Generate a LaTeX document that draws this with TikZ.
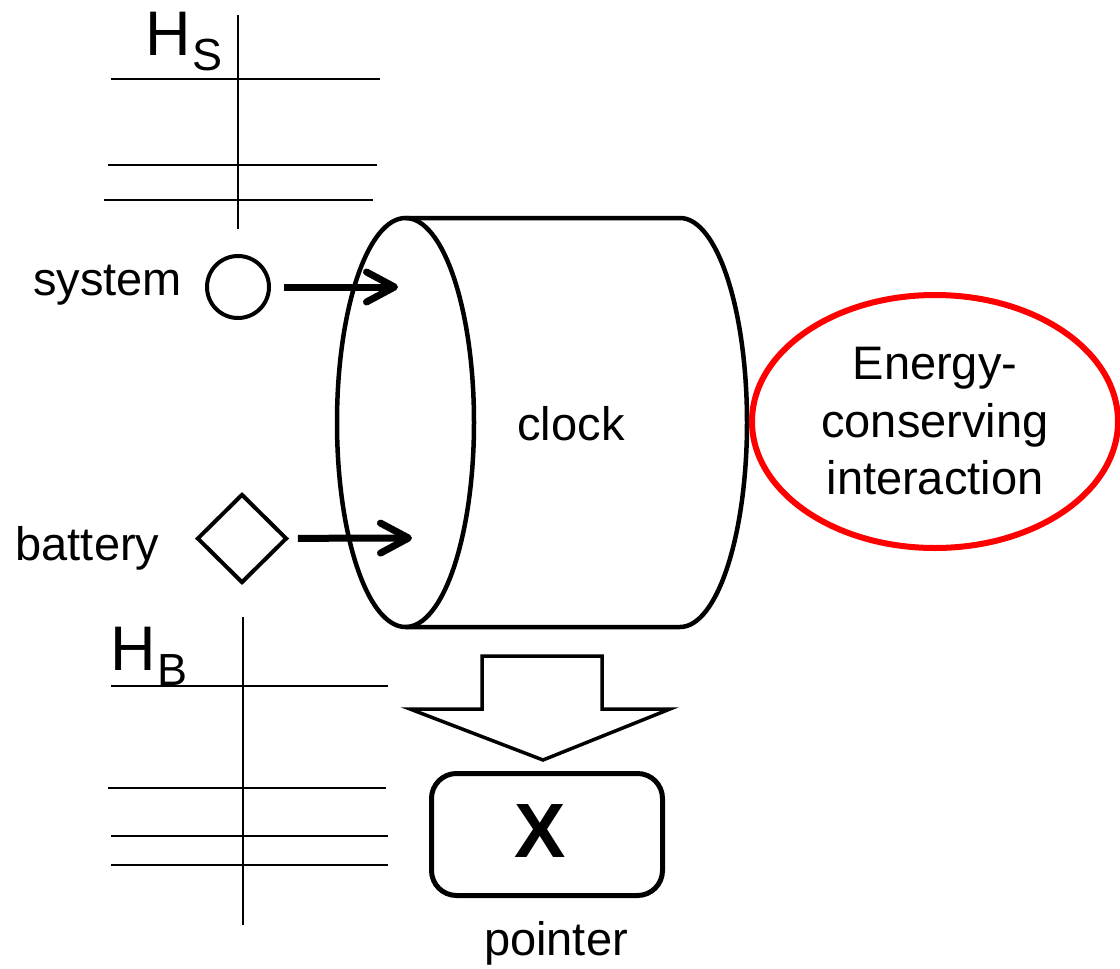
\documentclass[tikz,border=0pt]{standalone}
\usepackage{fontspec}
\setmainfont{Liberation Sans}
\usetikzlibrary{arrows.meta,shapes.geometric}
\begin{document}
\begin{tikzpicture}[x=1pt,y=-1pt,
  lvl/.style={line width=2pt},
  lbl/.style={font=\fontsize{47}{57.5}\selectfont, inner sep=0pt, anchor=base},
  bigarrow/.style={line width=7pt, -{Straight Barb[length=28pt,width=30pt,round]}},
  shapeline/.style={draw, line width=4pt}
]
\useasboundingbox (0,0) rectangle (1120,969);

% H_S levels
\draw[lvl] (238,15) -- (238,229);
\draw[lvl] (111,79) -- (380,79);
\draw[lvl] (108,165) -- (377,165);
\draw[lvl] (104,200) -- (373,200);
\node[inner sep=0pt, anchor=base west, font=\fontsize{63}{63}\selectfont] (hsH) at (145,55) {H};
\node[inner sep=0pt, anchor=base west, font=\fontsize{45}{45}\selectfont] (hsS) at (192,70) {S};

% H_B levels
\draw[lvl] (243,617) -- (243,925);
\draw[lvl] (111,686) -- (388,686);
\draw[lvl] (108,788) -- (386,788);
\draw[lvl] (111,836) -- (388,836);
\draw[lvl] (111,865) -- (388,865);
\node[inner sep=0pt, anchor=base west, font=\fontsize{63}{63}\selectfont] (hbH) at (110,670) {H};
\node[inner sep=0pt, anchor=base west, font=\fontsize{45}{45}\selectfont] (hbB) at (157,685) {B};

% clock cylinder
\draw[line width=4.5pt, line join=round] (405.5,218) -- (680,218)
  arc[start angle=-90, end angle=90, x radius=67, y radius=204.5]
  -- (405.5,627);
\draw[line width=4.5pt] (405.5,422.5) ellipse[x radius=68.5, y radius=204.5];
\node[lbl] (clock) at (571,440) {clock};
\coordinate (sysin) at (398,287);
\coordinate (batin) at (412,538);

% system and battery
\node[circle, shapeline, minimum size=62pt, inner sep=0pt] (sys) at (238,287) {};
\node[diamond, shapeline, minimum width=90pt, minimum height=89pt, inner sep=0pt] (bat) at (242,538.5) {};
\node[lbl] (systxt) at (107.5,295) {system};
\node[lbl] (battxt) at (87.5,560) {battery};
\draw[bigarrow, shorten <=13pt] (sys) -- (sysin);
\draw[bigarrow, shorten <=9pt] (bat) -- (batin);

% energy-conserving interaction
\node[ellipse, draw=red, line width=6pt, minimum width=366pt, minimum height=253pt, inner sep=0pt,
  align=center, font=\fontsize{47}{57.5}\selectfont] (eci) at (935,421.5) {Energy-\\conserving\\interaction};

% block arrow
\draw[line width=3.5pt, line join=miter] (482,656) -- (602,656) -- (602,709) -- (670,709)
  -- (543,760) -- (410,709) -- (482,709) -- cycle;

% pointer
\node[draw, line width=5pt, rounded corners=25pt, minimum width=231pt, minimum height=122pt, inner sep=0pt] (box) at (547,834.5) {};
\node[inner sep=0pt, anchor=base, font=\fontsize{77}{77}\selectfont\bfseries] (xlab) at (540,857) {X};
\node[lbl] (ptr) at (556,955) {pointer};
\end{tikzpicture}
\end{document}
